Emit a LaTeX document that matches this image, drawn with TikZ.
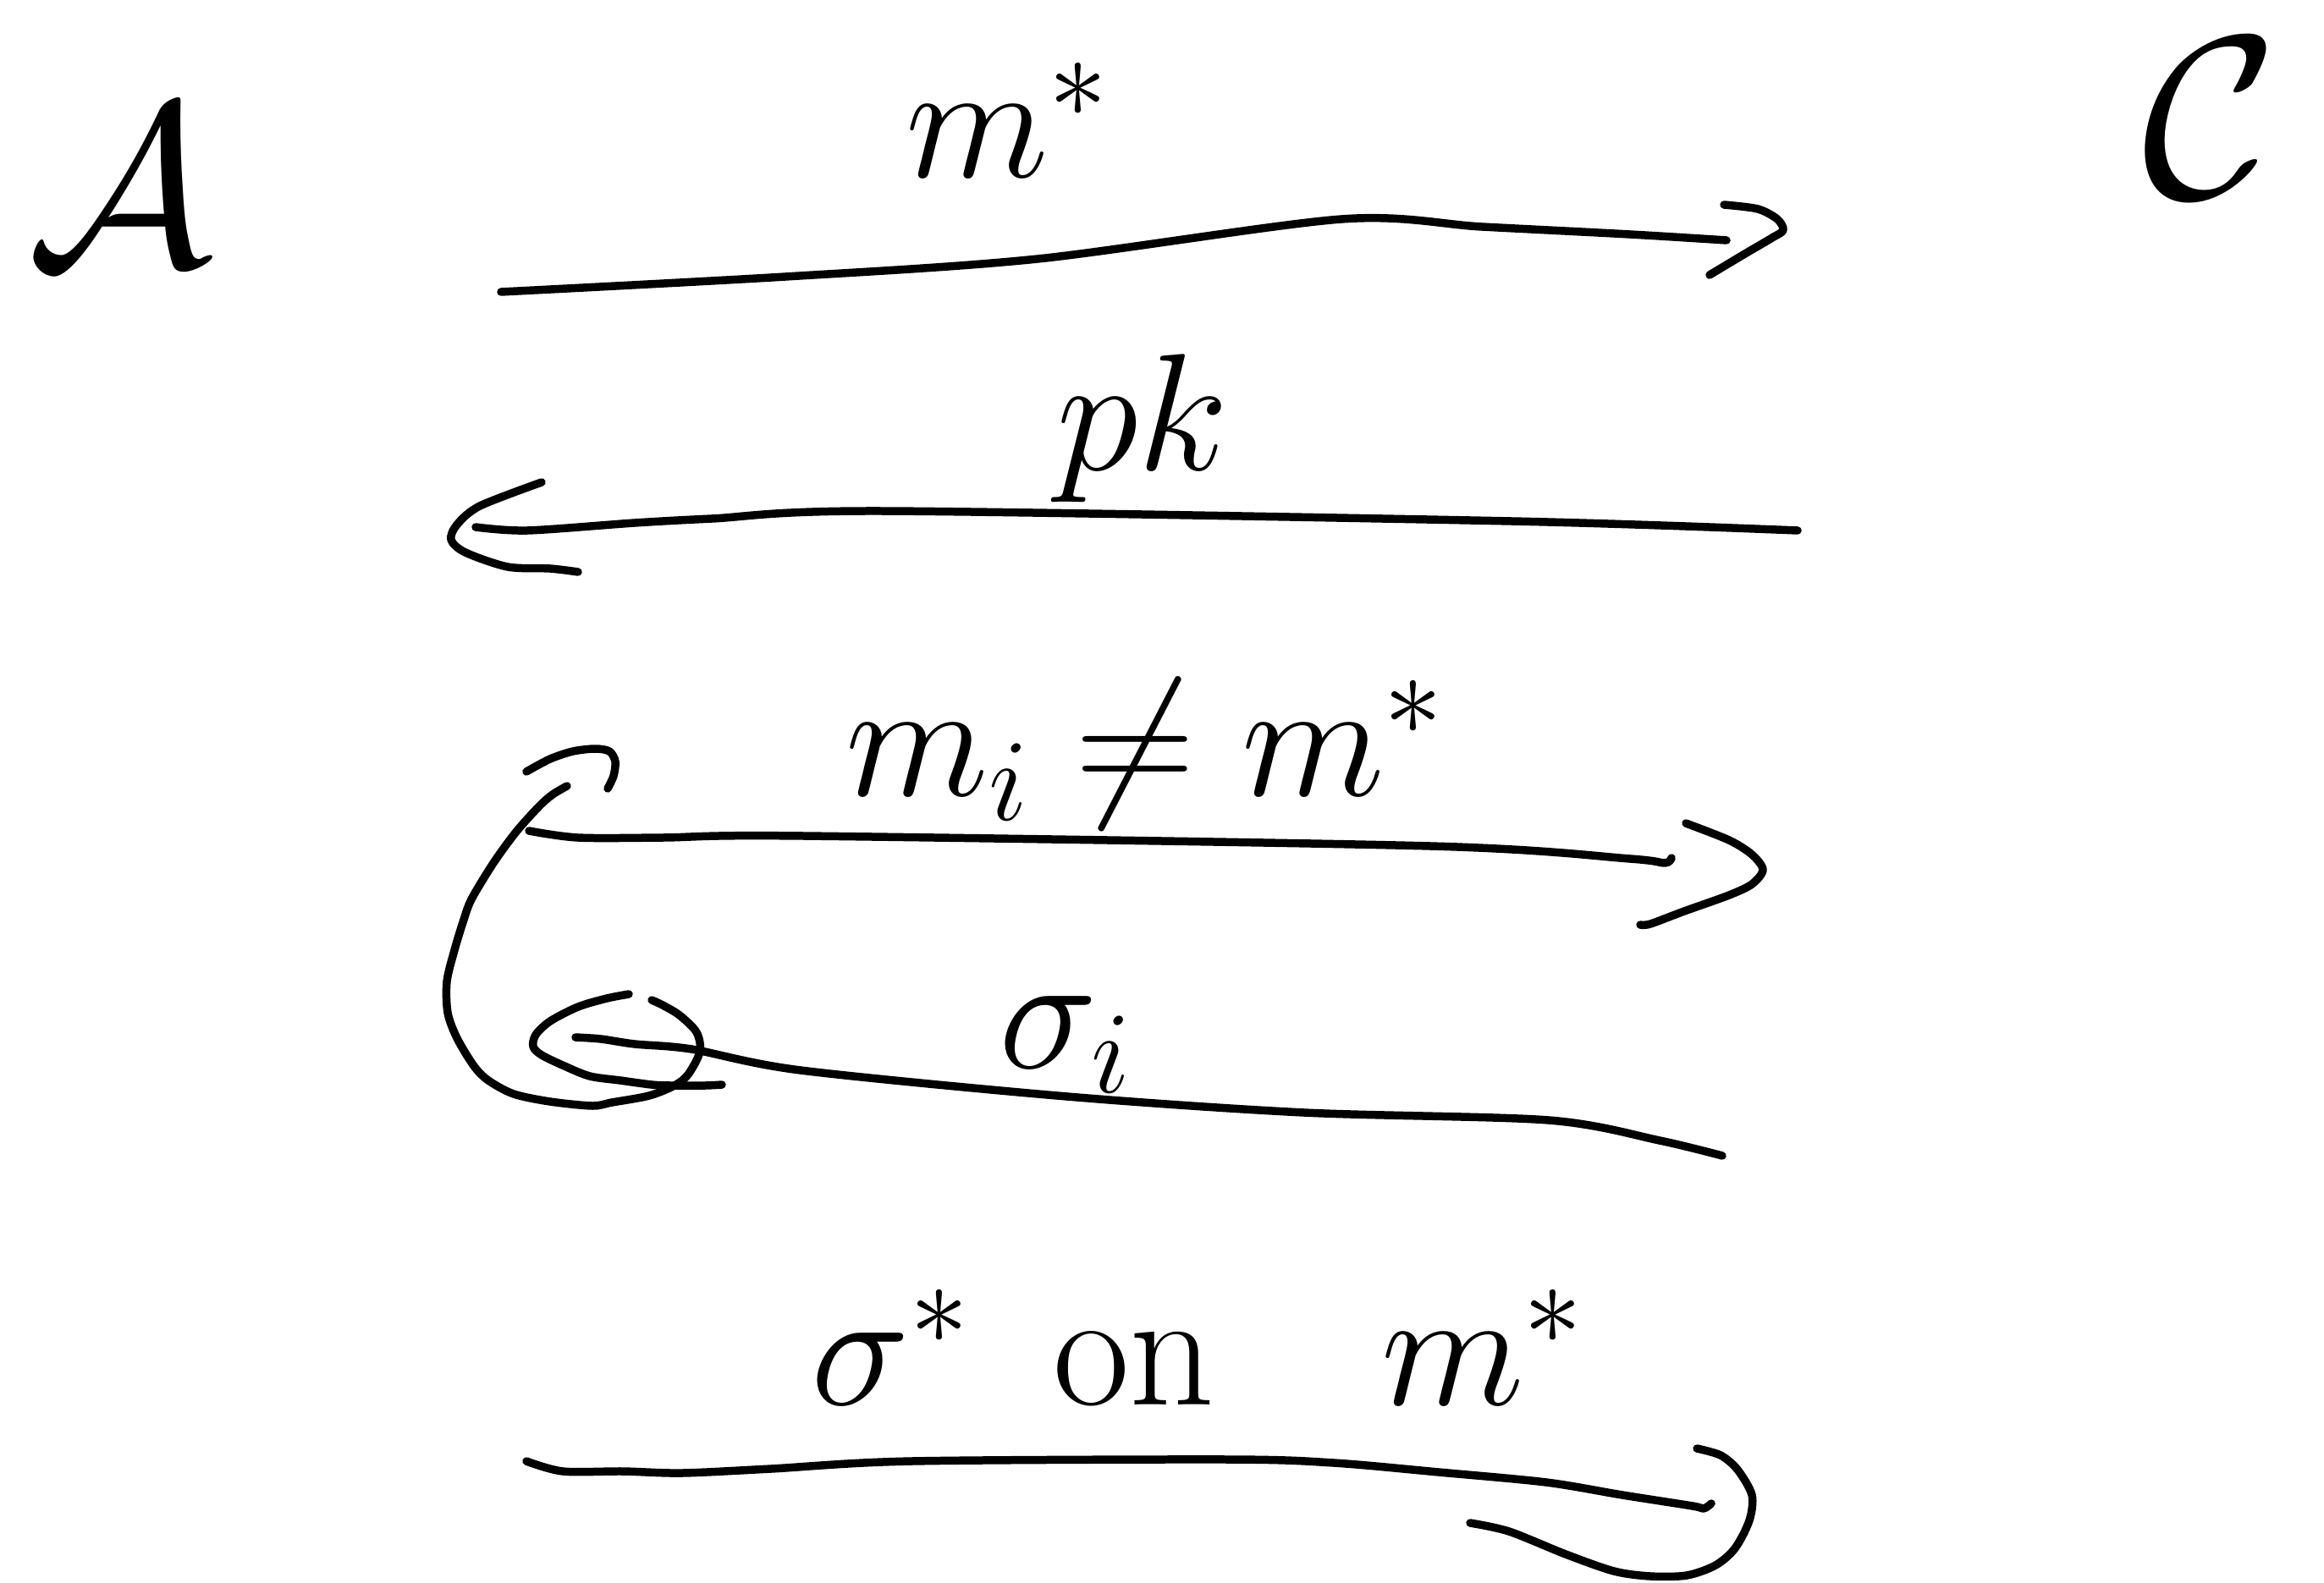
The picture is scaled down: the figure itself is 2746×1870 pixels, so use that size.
\RequirePackage{fix-cm}
\documentclass[tikz,border=0pt]{standalone}
\begin{document}
\begin{tikzpicture}[x=0.01cm,y=-0.01cm,
  stroke/.style={line width=2.7pt,line cap=round,line join=round},
  lbl/.style={font=\fontsize{56}{66}\selectfont,anchor=base,inner sep=0pt},
  party/.style={font=\fontsize{78}{90}\selectfont,inner sep=0pt}]
\path[use as bounding box] (0,0) rectangle (2746,1870);

% parties
\node[party] (A) at (142,220) {$\mathcal{A}$};
\node[party] (C) at (2612,140) {$\mathcal{C}$};

% arrow 1: m^*
\coordinate (a1s) at (592,345);
\coordinate (a1e) at (2040,284);
\coordinate (a1t) at (2107,272);
\draw[stroke] plot[smooth,tension=0.5] coordinates {(a1s) (928,327) (1226,306) (1585,259) (1751,268) (1926,277) (a1e)};
\draw[stroke] plot[smooth,tension=0.5] coordinates {(2037,242) (2077,247) (2100,259) (a1t) (2094,281) (2060,301) (2020,325)};
\node[lbl] (l1) at (1190,210) {$m^*$};

% arrow 2: pk
\coordinate (a2s) at (2124,627);
\coordinate (a2e) at (562,623);
\coordinate (a2t) at (533,638);
\draw[stroke] plot[smooth,tension=0.5] coordinates {(a2s) (1786,616) (1042,604) (841,613) (750,618) (623,627) (a2e)};
\draw[stroke] plot[smooth,tension=0.5] coordinates {(640,570) (567,598) (540,620) (a2t) (550,653) (600,670) (650,672) (683,676)};
\node[lbl] (l2) at (1350,555) {$pk$};

% arrow 3: m_i != m^*
\coordinate (a3s) at (625,982);
\coordinate (a3e) at (1975,1014);
\coordinate (a3t) at (2083,1028);
\draw[stroke] plot[smooth,tension=0.5] coordinates {(a3s) (683,990) (783,990) (950,988) (1690,1000) (1926,1015) (1967,1020) (a3e)};
\draw[stroke] plot[smooth,tension=0.5] coordinates {(1992,973) (2043,993) (2070,1010) (a3t) (2070,1045) (2043,1058) (1990,1077) (1950,1092) (1938,1093)};
\node[lbl] (l3) at (1353,940) {$m_i \neq m^*$};

% loop back
\coordinate (lps) at (770,1182);
\coordinate (lpe) at (670,929);
\coordinate (lpt) at (727,900);
\draw[stroke] plot[smooth,tension=0.5] coordinates {(lps) (783,1188) (803,1200) (823,1220) (827,1243) (813,1270) (797,1283) (767,1295) (723,1303) (700,1307) (650,1302) (607,1293) (577,1277) (560,1260) (540,1227) (529,1197) (528,1160) (537,1123) (547,1090) (557,1063) (583,1020) (610,983) (637,953) (653,939) (lpe)};
\draw[stroke] plot[smooth,tension=0.5] coordinates {(622,912) (650,897) (677,888) (703,885) (720,888) (lpt) (725,917) (718,932)};

% arrow 4: sigma_i
\coordinate (a4s) at (2035,1366);
\coordinate (a4e) at (680,1226);
\coordinate (a4t) at (630,1237);
\draw[stroke] plot[smooth,tension=0.5] coordinates {(a4s) (1961,1348) (1830,1324) (1541,1315) (1261,1296) (946,1265) (817,1240) (750,1234) (710,1228) (a4e)};
\draw[stroke] plot[smooth,tension=0.5] coordinates {(743,1175) (717,1180) (683,1190) (650,1207) (633,1223) (a4t) (640,1247) (667,1260) (697,1272) (733,1277) (770,1282) (793,1283) (833,1283) (853,1282)};
\node[lbl] (l4) at (1259,1262) {$\sigma_i$};

% arrow 5: sigma^* on m^*
\coordinate (a5s) at (622,1727);
\coordinate (a5e) at (2022,1777);
\coordinate (a5t) at (2070,1767);
\draw[stroke] plot[smooth,tension=0.5] coordinates {(a5s) (665,1739) (736,1739) (806,1741) (911,1736) (1077,1727) (1454,1725) (1576,1729) (1700,1740) (1827,1752) (1917,1767) (2000,1780) (2013,1783) (a5e)};
\draw[stroke] plot[smooth,tension=0.5] coordinates {(2005,1712) (2033,1720) (2053,1737) (a5t) (2067,1797) (2050,1830) (2027,1850) (1993,1862) (1950,1863) (1907,1857) (1850,1837) (1783,1810) (1737,1800)};
\node[lbl] (l5) at (1415,1660) {$\sigma^*$\enspace on\enspace\enspace$m^*$};
\end{tikzpicture}
\end{document}
